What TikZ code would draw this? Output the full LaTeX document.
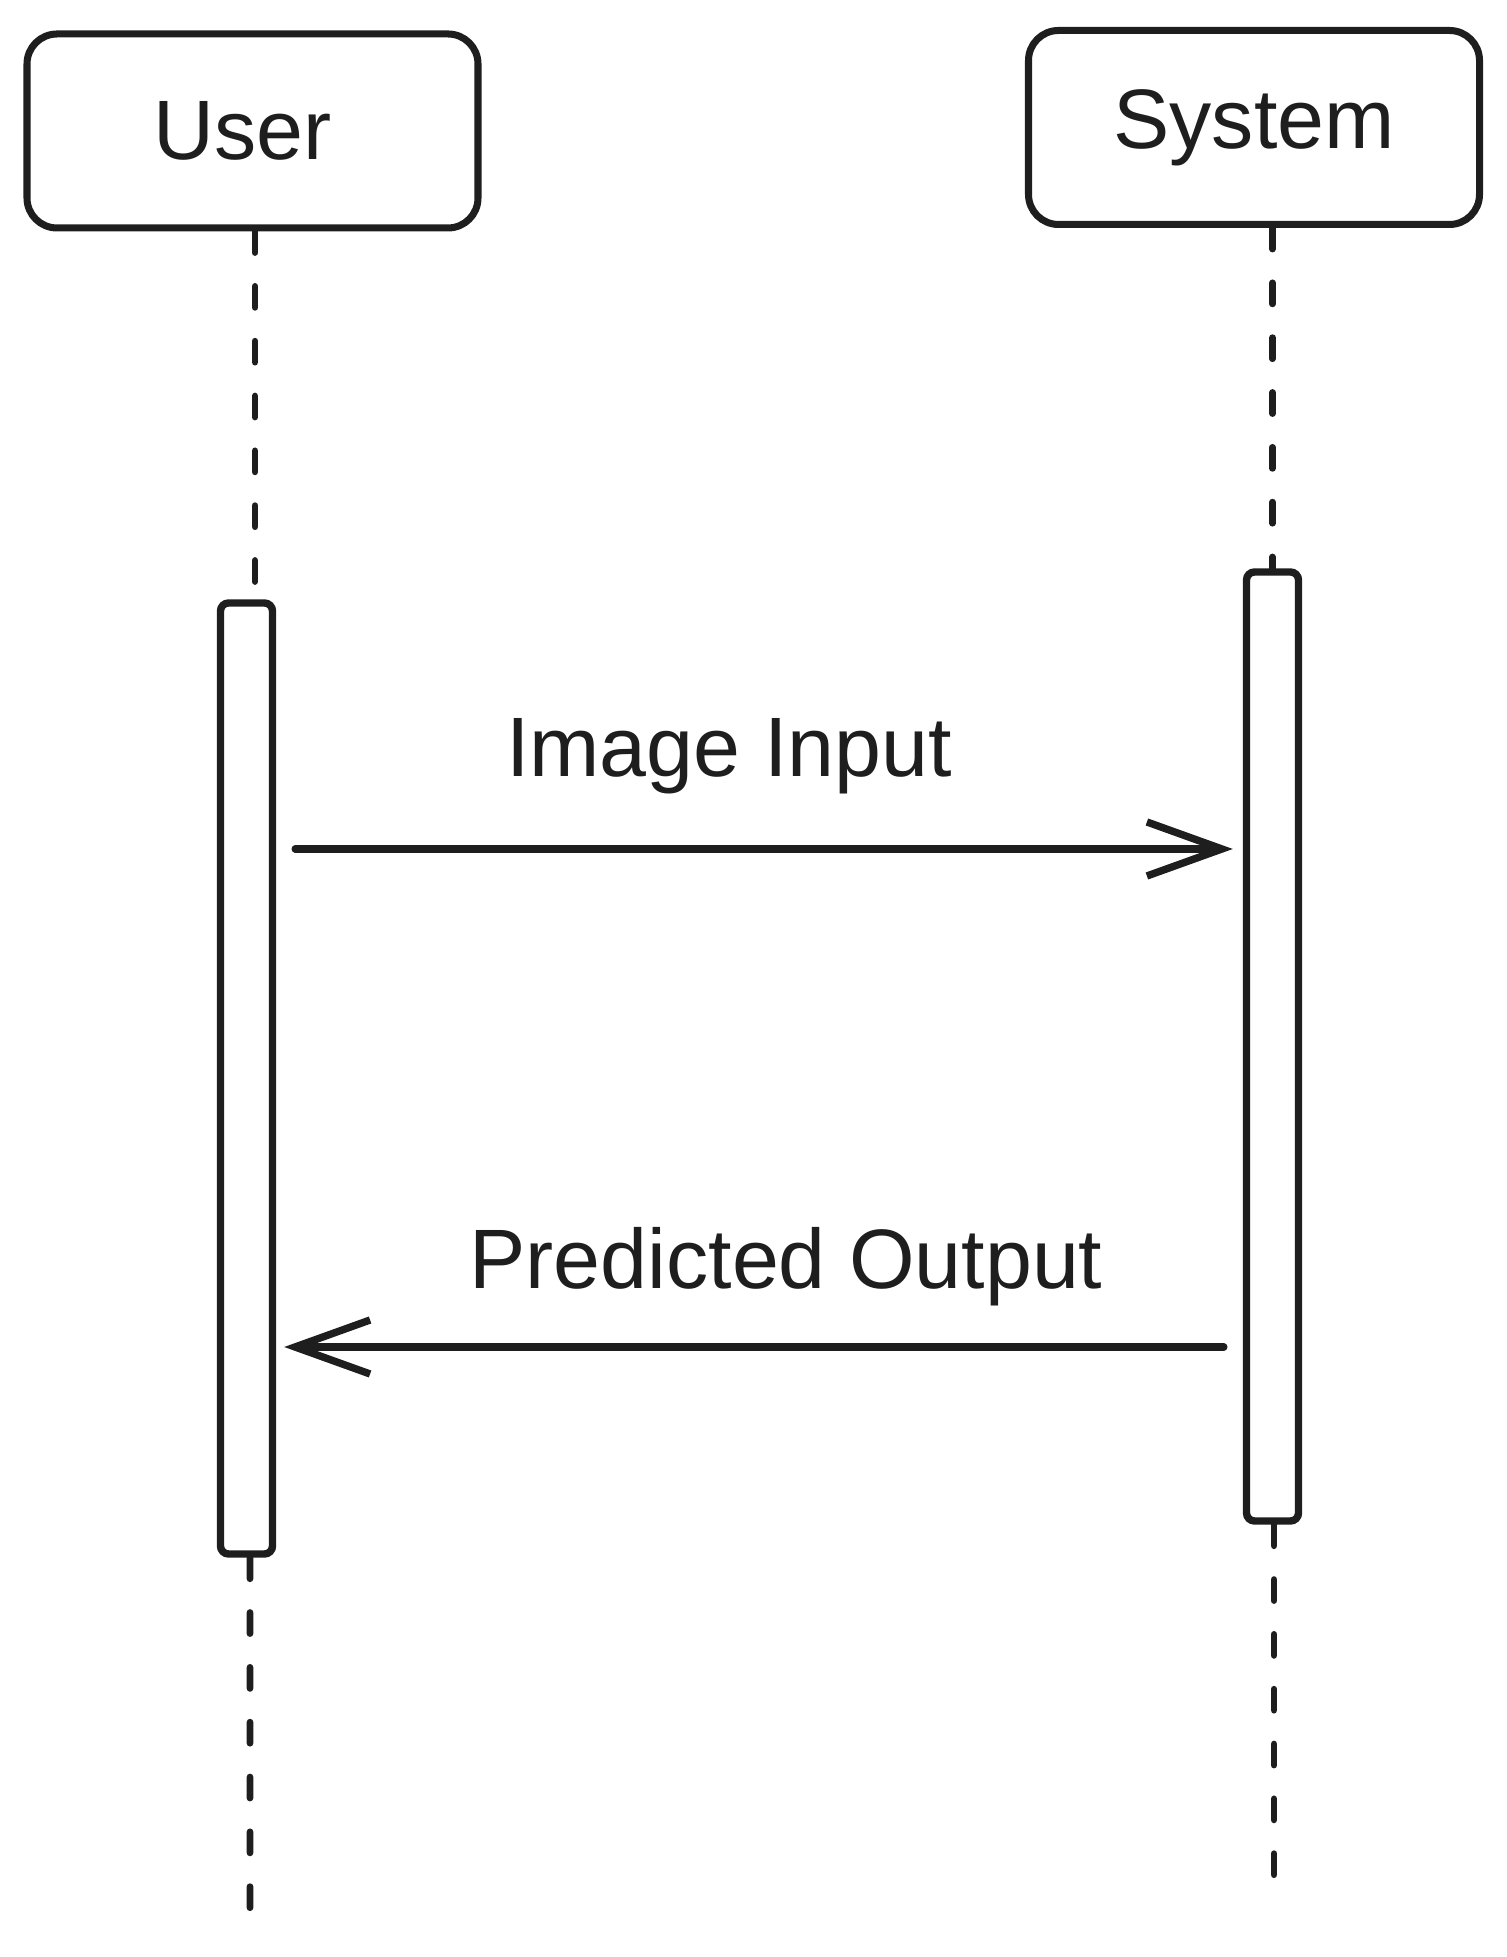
\documentclass[tikz,border=0pt]{standalone}
\usepackage{fontspec}
\setmainfont{Liberation Sans}
\usepackage{xcolor}
\usetikzlibrary{arrows.meta,positioning,calc}
\definecolor{sink}{HTML}{1E1E1E}

\begin{document}
\begin{tikzpicture}[font=\fontsize{24}{28}\selectfont,x=1cm,y=1cm,
  actor/.style={draw=sink,text=sink,line width=2pt,rounded corners=3mm,
    minimum width=4.51cm,minimum height=1.94cm,inner sep=0pt},
  actbar/.style={draw=sink,fill=white,line width=2.1pt,rounded corners=0.8mm,
    minimum width=0.52cm,inner sep=0pt},
  lifeline/.style={draw=sink,line width=1.9pt,line cap=round,dash pattern=on 6pt off 9.6pt},
  msg/.style={draw=sink,line width=2.1pt,line cap=round,
    -{Straight Barb[length=7.5mm,width=5.4mm,line width=2.1pt]}},
  msglabel/.style={text=sink,anchor=base,inner sep=0pt}]

\useasboundingbox (0,0) rectangle (15.07,19.57);

% ================= participants =================
\node[actor] (user) at (2.525,18.26) {\hspace*{-0.2cm}User};
\node[actor] (sys)  at (12.54,18.295) {System};

% activation bars
\node[actbar,minimum height=9.51cm] (userbar) at (2.465,8.785) {};
\node[actbar,minimum height=9.49cm] (sysbar)  at (12.725,9.105) {};

% ends of the life lines
\coordinate (userend) at (2.50,0.40);
\coordinate (sysend)  at (12.74,0.78);

% ================= life lines =================
\draw[lifeline] ($(user.south)+(0.025,0)$) -- ($(user.south |- userbar.north)+(0.025,0)$);
\draw[lifeline] (sysbar.north |- sys.south) -- (sysbar.north);
\draw[lifeline] ($(userbar.south)+(0.035,0)$) -- (userend);
\draw[lifeline] ($(sysbar.south)+(0.015,0)$) -- (sysend);

% ================= messages =================
\coordinate (msgA) at (0,11.08);
\coordinate (msgB) at (0,6.10);
\draw[msg] ($(userbar.east |- msgA)+(0.19,0)$) -- ($(sysbar.west |- msgA)+(-0.10,0)$);
\node[msglabel] (lblA) at (7.29,11.80) {Image Input};
\draw[msg] ($(sysbar.west |- msgB)+(-0.19,0)$) -- ($(userbar.east |- msgB)+(0.08,0)$);
\node[msglabel] (lblB) at (7.86,6.68) {Predicted Output};
\end{tikzpicture}
\end{document}
